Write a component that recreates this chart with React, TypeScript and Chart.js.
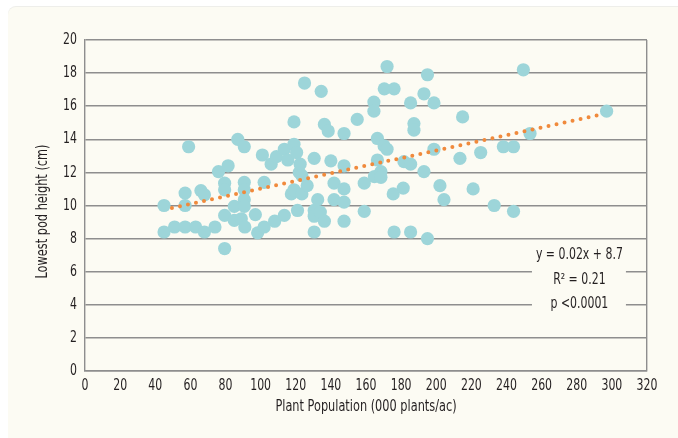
import React, { useEffect, useRef } from 'react';
import { Chart, registerables } from 'chart.js';

Chart.register(...registerables);

// Plant population (000 plants/ac)
const PLANT_POPULATION = [
  45, 45, 51, 57, 57, 57, 59, 63, 66, 68, 68, 74, 76, 81.5, 79.5, 79.5, 79.5, 79.5,
  85, 85, 87, 90.7, 90.7, 90.7, 90.7, 90.7, 89, 91, 97, 98.3, 101, 102, 102, 106,
  108, 109, 113.5, 113.5, 115.5, 117.5, 119, 119, 119, 120.5, 121, 122, 122.5, 123.5,
  123.5, 125, 126.5, 130.5, 130.5, 130.5, 130.5, 132.5, 134, 134.5, 136.3, 136.3,
  138.5, 140, 141.8, 141.8, 147.5, 147.5, 147.5, 147.5, 147.5, 155, 159, 159, 164.5,
  164.5, 164.8, 166.5, 166.5, 168.5, 168.5, 170.3, 172, 172, 170.4, 176, 175.5, 176,
  181.2, 181.6, 185.4, 185.4, 185.4, 187.3, 187.3, 193, 193, 195, 195, 198.7, 198.7,
  202.1, 204.4, 213.5, 215, 221, 225.3, 233, 238.2, 244, 244, 249.6, 253.4, 297,
];

// Lowest pod height (cm)
const POD_HEIGHT = [
  10.0, 8.4, 8.7, 10.75, 10.0, 8.7, 13.55, 8.7, 10.9, 10.65, 8.4, 8.7, 12.05, 12.4, 11.35, 10.95, 9.4, 7.4,
  9.95, 9.1, 14.0, 13.55, 11.4, 10.95, 10.35, 9.95, 9.2, 8.7, 9.45, 8.35, 13.05, 11.4, 8.7, 12.5,
  9.05, 12.95, 13.4, 9.4, 12.75, 10.7, 13.7, 15.05, 10.95, 13.2, 9.7, 12.0, 12.5, 10.7,
  11.8, 17.4, 11.2, 12.85, 9.7, 9.35, 8.4, 10.35, 9.6, 16.9, 14.9, 9.05,
  14.5, 12.7, 11.35, 10.35, 14.35, 12.4, 11.0, 10.2, 9.05, 15.2, 11.35, 9.65, 16.25,
  15.7, 11.75, 14.05, 12.75, 12.05, 11.7, 13.6, 13.4, 18.4, 17.05, 17.05, 10.7, 8.4,
  11.05, 12.65, 12.5, 16.2, 8.4, 14.95, 14.55, 16.75, 12.05, 17.9, 8.0, 16.2, 13.4,
  11.2, 10.35, 12.85, 15.35, 11.0, 13.2, 10.0, 13.55, 13.55, 9.65, 18.2, 14.35, 15.7,
];

// Fitted trend line end points, as drawn
const TREND_X = [49.5, 294];
const TREND_Y = [9.85, 15.5];

const X_MIN = 0;
const X_MAX = 320;
const X_STEP = 20;
const Y_MIN = 0;
const Y_MAX = 20;
const Y_STEP = 2;

const X_TITLE = 'Plant Population (000 plants/ac)';
const Y_TITLE = 'Lowest pod height (cm)';

const ANNOTATION_LINES = ['y = 0.02x + 8.7', 'R\u00B2 = 0.21', 'p <0.0001'];
const ANNOTATION_X = 281.5;
const ANNOTATION_Y = [7.0, 5.5, 4.05];
const ANNOTATION_BOX_X = [254.5, 308];
const ANNOTATION_BOX_Y = [7.65, 3.3];

const FONT = "'DejaVu Sans Condensed', 'DejaVu Sans', sans-serif";
const CREAM = '#fcfbf3';
const GRID = '#8e8e8e';
const TEXT = '#231f20';

const TICK_SIZE = 16;
const TICK_SQUEEZE = 0.76;
const TITLE_SIZE = 15;
const TITLE_SQUEEZE = 0.84;

function drawText(
  ctx: CanvasRenderingContext2D,
  text: string,
  x: number,
  y: number,
  align: CanvasTextAlign,
  size: number,
  squeeze: number,
  rotation = 0
) {
  ctx.save();
  ctx.translate(x, y);
  if (rotation) ctx.rotate(rotation);
  ctx.scale(squeeze, 1);
  ctx.font = `${size}px ${FONT}`;
  ctx.fillStyle = TEXT;
  ctx.textAlign = align;
  ctx.textBaseline = 'middle';
  ctx.fillText(text, 0, 0);
  ctx.restore();
}

const textPlugin = {
  id: 'condensedText',
  afterDraw(chart: any) {
    const { ctx, scales, chartArea } = chart;
    const xs = scales.x;
    const ys = scales.y;

    // tick labels
    xs.ticks.forEach((t: any) => {
      drawText(ctx, String(t.value), xs.getPixelForValue(t.value), chartArea.bottom + 15, 'center', TICK_SIZE, TICK_SQUEEZE);
    });
    ys.ticks.forEach((t: any) => {
      drawText(ctx, String(t.value), chartArea.left - 8, ys.getPixelForValue(t.value), 'right', TICK_SIZE, TICK_SQUEEZE);
    });

    // axis titles
    drawText(ctx, X_TITLE, (chartArea.left + chartArea.right) / 2, chartArea.bottom + 36, 'center', TITLE_SIZE, TITLE_SQUEEZE);
    drawText(ctx, Y_TITLE, 35, (chartArea.top + chartArea.bottom) / 2 + 6, 'center', TITLE_SIZE, TITLE_SQUEEZE, -Math.PI / 2);
  },
  afterDatasetsDraw(chart: any) {
    const { ctx, scales } = chart;
    const xs = scales.x;
    const ys = scales.y;
    const bx0 = xs.getPixelForValue(ANNOTATION_BOX_X[0]);
    const bx1 = xs.getPixelForValue(ANNOTATION_BOX_X[1]);
    const by0 = ys.getPixelForValue(ANNOTATION_BOX_Y[0]);
    const by1 = ys.getPixelForValue(ANNOTATION_BOX_Y[1]);
    ctx.save();
    ctx.fillStyle = CREAM;
    ctx.fillRect(bx0, by0, bx1 - bx0, by1 - by0);
    ctx.restore();
    const cx = xs.getPixelForValue(ANNOTATION_X);
    ANNOTATION_LINES.forEach((line, i) => {
      drawText(ctx, line, cx, ys.getPixelForValue(ANNOTATION_Y[i]), 'center', TICK_SIZE, TICK_SQUEEZE);
    });
  },
};

export default function App() {
  const canvasRef = useRef<HTMLCanvasElement | null>(null);

  useEffect(() => {
    const canvas = canvasRef.current;
    if (!canvas) return;
    const points = PLANT_POPULATION.map((x, i) => ({ x, y: POD_HEIGHT[i] }));
    const trend = TREND_X.map((x, i) => ({ x, y: TREND_Y[i] }));

    const chart = new Chart(canvas, {
      type: 'scatter',
      data: {
        datasets: [
          {
            label: 'Trend',
            data: trend,
            showLine: true,
            borderColor: '#f08a3c',
            borderWidth: 4,
            borderDash: [0, 8.2],
            borderCapStyle: 'round',
            pointRadius: 0,
            pointHoverRadius: 0,
            order: 0,
          } as any,
          {
            label: 'Observations',
            data: points,
            backgroundColor: '#9dd5d9',
            borderWidth: 0,
            pointRadius: 6.6,
            pointHoverRadius: 6.6,
            order: 1,
          },
        ],
      },
      options: {
        responsive: false,
        animation: false,
        layout: { padding: { top: 33, right: 31, left: 0, bottom: 0 } },
        plugins: {
          legend: { display: false },
          tooltip: { enabled: false },
        },
        scales: {
          x: {
            type: 'linear',
            min: X_MIN,
            max: X_MAX,
            ticks: { stepSize: X_STEP, display: false },
            grid: {
              drawTicks: false,
              lineWidth: 1.4,
              color: (c: any) => (c.tick && c.tick.value === X_MAX ? GRID : 'rgba(0,0,0,0)'),
            },
            border: { display: true, color: GRID, width: 1.4 },
            afterFit: (scale: any) => {
              scale.height = 67;
            },
          },
          y: {
            type: 'linear',
            min: Y_MIN,
            max: Y_MAX,
            ticks: { stepSize: Y_STEP, display: false },
            grid: {
              drawTicks: false,
              lineWidth: 1.4,
              color: GRID,
            },
            border: { display: true, color: GRID, width: 1.4 },
            afterFit: (scale: any) => {
              scale.width = 77;
            },
          },
        },
      },
      plugins: [textPlugin],
    });

    return () => {
      chart.destroy();
    };
  }, []);

  return (
    <div
      style={{
        position: 'fixed',
        left: 8,
        top: 7,
        width: 670,
        height: 431,
        background: CREAM,
        borderTopLeftRadius: 8,
        boxShadow: '0 -1px 0 #eeeeea',
      }}
    >
      <canvas ref={canvasRef} width={670} height={431} style={{ display: 'block' }} />
    </div>
  );
}
